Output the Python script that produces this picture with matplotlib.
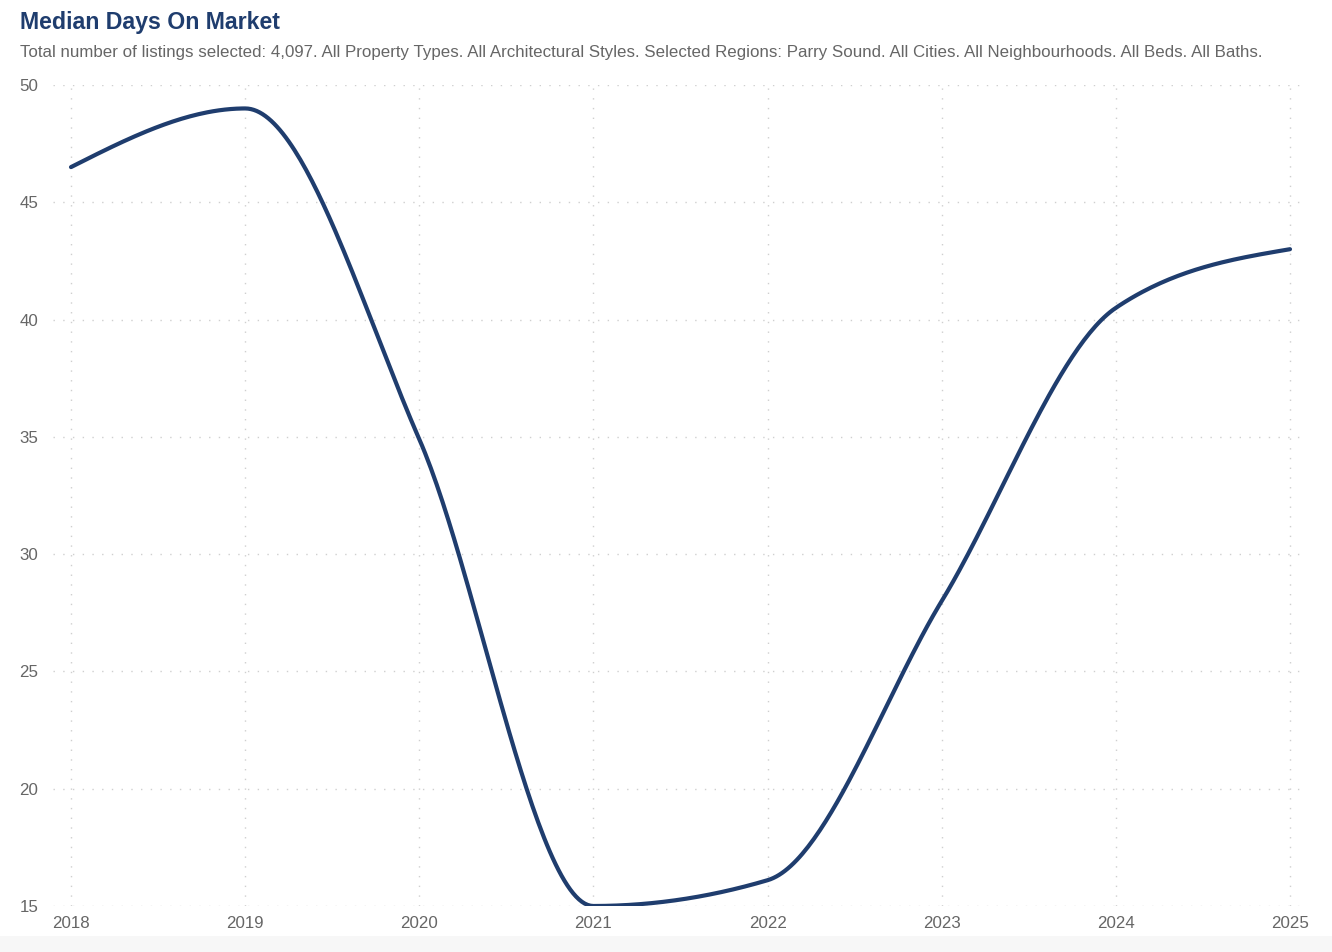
import numpy as np
import matplotlib
matplotlib.use("Agg")
import matplotlib.pyplot as plt
from matplotlib.patches import Rectangle

years = [2018, 2019, 2020, 2021, 2022, 2023, 2024, 2025]
median_days = [46.5, 49.0, 34.9, 15.0, 16.1, 28.0, 40.5, 43.0]
y_ticks = [15, 20, 25, 30, 35, 40, 45, 50]

title = "Median Days On Market"
subtitle = ("Total number of listings selected: 4,097. All Property Types. All Architectural Styles. "
            "Selected Regions: Parry Sound. All Cities. All Neighbourhoods. All Beds. All Baths.")

LINE = "#1f3d6e"
TEXT = "#666666"
GRID = "#cfcfcf"


def monotone_curve(x, y, n=60):
    """d3-style curveMonotoneX rendering of the line through the points."""
    x = np.asarray(x, float)
    y = np.asarray(y, float)
    h = np.diff(x)
    s = np.diff(y) / h
    m = np.zeros_like(y)
    for i in range(1, len(x) - 1):
        s0, s1 = s[i - 1], s[i]
        p = (s0 * h[i] + s1 * h[i - 1]) / (h[i - 1] + h[i])
        m[i] = (np.sign(s0) + np.sign(s1)) * min(abs(s0), abs(s1), 0.5 * abs(p))
    m[0] = (3 * s[0] - m[1]) / 2
    m[-1] = (3 * s[-1] - m[-2]) / 2
    xs, ys = [], []
    for i in range(len(x) - 1):
        t = np.linspace(0, 1, n, endpoint=(i == len(x) - 2))
        x0, x1, y0, y1 = x[i], x[i + 1], y[i], y[i + 1]
        dx = x1 - x0
        c1 = y0 + m[i] * dx / 3
        c2 = y1 - m[i + 1] * dx / 3
        bx = (1 - t) ** 3 * x0 + 3 * (1 - t) ** 2 * t * (x0 + dx / 3) + 3 * (1 - t) * t ** 2 * (x1 - dx / 3) + t ** 3 * x1
        by = (1 - t) ** 3 * y0 + 3 * (1 - t) ** 2 * t * c1 + 3 * (1 - t) * t ** 2 * c2 + t ** 3 * y1
        xs.append(bx)
        ys.append(by)
    return np.concatenate(xs), np.concatenate(ys)


W, H = 1332, 952
fig = plt.figure(figsize=(W / 100, H / 100), dpi=100)
fig.patch.set_facecolor("white")
plt.rcParams['font.family'] = ['Liberation Sans', 'DejaVu Sans']

# bottom light band
fig.patches.append(Rectangle((0, 0), 1, 16 / H, transform=fig.transFigure,
                             facecolor="#f7f7f7", edgecolor="none", zorder=-10))

left, right, top, bottom = 53, 1300, 85, 906
ax = fig.add_axes([left / W, 1 - bottom / H, (right - left) / W, (bottom - top) / H])
ax.set_facecolor("none")

px_per_year = (1290 - 71) / 7
ax.set_xlim(2018 - (71 - left) / px_per_year, 2025 + (right - 1290) / px_per_year)
ax.set_ylim(15, 50)

# grid
for yv in y_ticks:
    ax.axhline(yv, color=GRID, lw=1.0, ls=(0, (1, 6)), zorder=0)
for xv in years:
    ax.plot([xv, xv], [15, 50], color=GRID, lw=1.0, ls=(0, (1, 6)), zorder=0)

cx, cy = monotone_curve(years, median_days)
ax.plot(cx, cy, color=LINE, lw=3.0, solid_capstyle="round", zorder=3)

for sp in ax.spines.values():
    sp.set_visible(False)
ax.set_xticks(years)
ax.set_xticklabels([str(y) for y in years])
ax.set_yticks(y_ticks)
ax.set_yticklabels([str(v) for v in y_ticks])
ax.tick_params(axis="both", length=0, labelsize=12.2, labelcolor=TEXT)
ax.tick_params(axis="x", pad=7)
ax.tick_params(axis="y", pad=10.5)

fig.text(20 / W, 1 - 23 / H, title, fontsize=16.7, fontweight="bold", color=LINE,
         ha="left", va="center")
fig.text(20 / W, 1 - 53 / H, subtitle, fontsize=12.2, color=TEXT, ha="left", va="center")

fig.savefig("out.png", dpi=100, facecolor=fig.get_facecolor())
